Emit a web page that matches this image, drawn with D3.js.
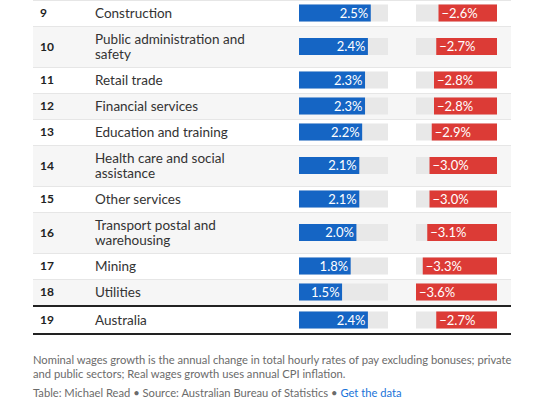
<!DOCTYPE html>
<html>
<head>
<meta charset="utf-8">
<script src="https://cdn.jsdelivr.net/npm/d3@7"></script>
<style>
  body { margin: 0; background: #fff; }
  svg { display: block; font-family: Lato, "Noto Sans", sans-serif; }
</style>
</head>
<body>
<svg id="chart" width="540" height="409"></svg>
<script>
// rows 9-19 of the table (rows 1-8 are scrolled off above)
const ranks = [9, 10, 11, 12, 13, 14, 15, 16, 17, 18, 19];
const industries = [
  "Construction",
  "Public administration and safety",
  "Retail trade",
  "Financial services",
  "Education and training",
  "Health care and social assistance",
  "Other services",
  "Transport postal and warehousing",
  "Mining",
  "Utilities",
  "Australia"
];
const nominal = [2.5, 2.4, 2.3, 2.3, 2.2, 2.1, 2.1, 2.0, 1.8, 1.5, 2.4];
const real = [-2.6, -2.7, -2.8, -2.8, -2.9, -3.0, -3.0, -3.1, -3.3, -3.6, -2.7];
// top of the nominal column comes from row 1, which is off screen
const nominalMax = 3.1;
const footnotes = [
  "Nominal wages growth is the annual change in total hourly rates of pay excluding bonuses; private",
  "and public sectors; Real wages growth uses annual CPI inflation."
];

const svg = d3.select("#chart");
const left = 33, right = 511;
const rankX = 40, nameX = 95, nameWrap = 165;
const lineH = 15, padV = 11, barH = 17;

const xNom = d3.scaleLinear().domain([0, nominalMax]).range([299, 388]);
const xReal = d3.scaleLinear().domain([0, d3.max(real, d => -d)]).range([497, 416]);
const fmt = d3.format(".1f");

// split a label into lines that fit the name column
const measure = svg.append("text").attr("font-size", 13.5);
const wrap = str => {
  const words = str.split(" ");
  const lines = [];
  let cur = "";
  for (const w of words) {
    const test = cur ? cur + " " + w : w;
    measure.text(test);
    if (cur && measure.node().getComputedTextLength() > nameWrap) {
      lines.push(cur);
      cur = w;
    } else cur = test;
  }
  lines.push(cur);
  return lines;
};

let y = 0;
const rows = ranks.map((r, i) => {
  const lines = wrap(industries[i]);
  const h = padV + lineH * lines.length;
  const row = {rank: r, lines, nom: nominal[i], real: real[i], y, h, total: r === 19};
  y += h + (i === ranks.length - 2 ? 2 : 0);
  return row;
});
measure.remove();

const g = svg.selectAll("g.row")
  .data(rows)
  .join("g")
  .attr("class", "row")
  .attr("transform", d => `translate(0,${d.y})`);

g.append("rect")
  .attr("x", left)
  .attr("width", right - left)
  .attr("height", d => d.h)
  .attr("fill", d => d.rank % 2 === 0 && !d.total ? "#f6f6f6" : "#fff");

g.filter(d => !d.total).append("line")
  .attr("x1", left).attr("x2", right)
  .attr("y1", 0.5).attr("y2", 0.5)
  .attr("stroke", "#e6e6e6");

g.append("text")
  .attr("x", rankX)
  .attr("y", d => d.h / 2)
  .attr("dy", "0.35em")
  .attr("font-size", 12)
  .attr("font-weight", "bold")
  .attr("fill", "#222")
  .text(d => d.rank);

g.append("text")
  .attr("font-size", 13.5)
  .attr("fill", "#333")
  .selectAll("tspan")
  .data(d => d.lines.map((l, k) => ({l, k, n: d.lines.length, h: d.h})))
  .join("tspan")
  .attr("x", nameX)
  .attr("y", t => t.h / 2 + (t.k - (t.n - 1) / 2) * lineH)
  .attr("dy", "0.35em")
  .text(t => t.l);

// nominal column
g.append("rect")
  .attr("x", xNom(0))
  .attr("y", d => d.h / 2 - barH / 2)
  .attr("width", xNom(nominalMax) - xNom(0))
  .attr("height", barH)
  .attr("fill", "#e8e8e8");
g.append("rect")
  .attr("x", xNom(0))
  .attr("y", d => d.h / 2 - barH / 2)
  .attr("width", d => xNom(d.nom) - xNom(0))
  .attr("height", barH)
  .attr("fill", "#1565c4");
g.append("text")
  .attr("x", d => xNom(d.nom) - 2.5)
  .attr("y", d => d.h / 2)
  .attr("dy", "0.36em")
  .attr("text-anchor", "end")
  .attr("font-size", 13)
  .attr("fill", "#fff")
  .text(d => fmt(d.nom) + "%");

// real column, bars grow leftwards from the right end of the track
g.append("rect")
  .attr("x", xReal(xReal.domain()[1]))
  .attr("y", d => d.h / 2 - barH / 2)
  .attr("width", xReal(0) - xReal(xReal.domain()[1]))
  .attr("height", barH)
  .attr("fill", "#e8e8e8");
g.append("rect")
  .attr("x", d => xReal(-d.real))
  .attr("y", d => d.h / 2 - barH / 2)
  .attr("width", d => xReal(0) - xReal(-d.real))
  .attr("height", barH)
  .attr("fill", "#dc3b36");
g.append("text")
  .attr("x", d => xReal(-d.real) + 3)
  .attr("y", d => d.h / 2)
  .attr("dy", "0.36em")
  .attr("font-size", 13)
  .attr("fill", "#fff")
  .text(d => fmt(d.real) + "%");

// heavy rules around the total row
const tot = rows[rows.length - 1];
[tot.y - 1, tot.y + tot.h + 1].forEach(ly => {
  svg.append("line")
    .attr("x1", left).attr("x2", right)
    .attr("y1", ly).attr("y2", ly)
    .attr("stroke", "#222")
    .attr("stroke-width", 2);
});

const foot = svg.append("g")
  .attr("font-size", 11.2)
  .attr("fill", "#6b6b6b");
foot.selectAll("text.note")
  .data(footnotes)
  .join("text")
  .attr("class", "note")
  .attr("x", left)
  .attr("y", (d, i) => 360.5 + i * 14)
  .attr("dy", "0.35em")
  .text(d => d);

const src = foot.append("text")
  .attr("x", left)
  .attr("y", 393)
  .attr("dy", "0.35em");
src.append("tspan").text("Table: Michael Read \u2022 Source: Australian Bureau of Statistics \u2022 ");
src.append("tspan").attr("fill", "#1a73d9").text("Get the data");
</script>
</body>
</html>
